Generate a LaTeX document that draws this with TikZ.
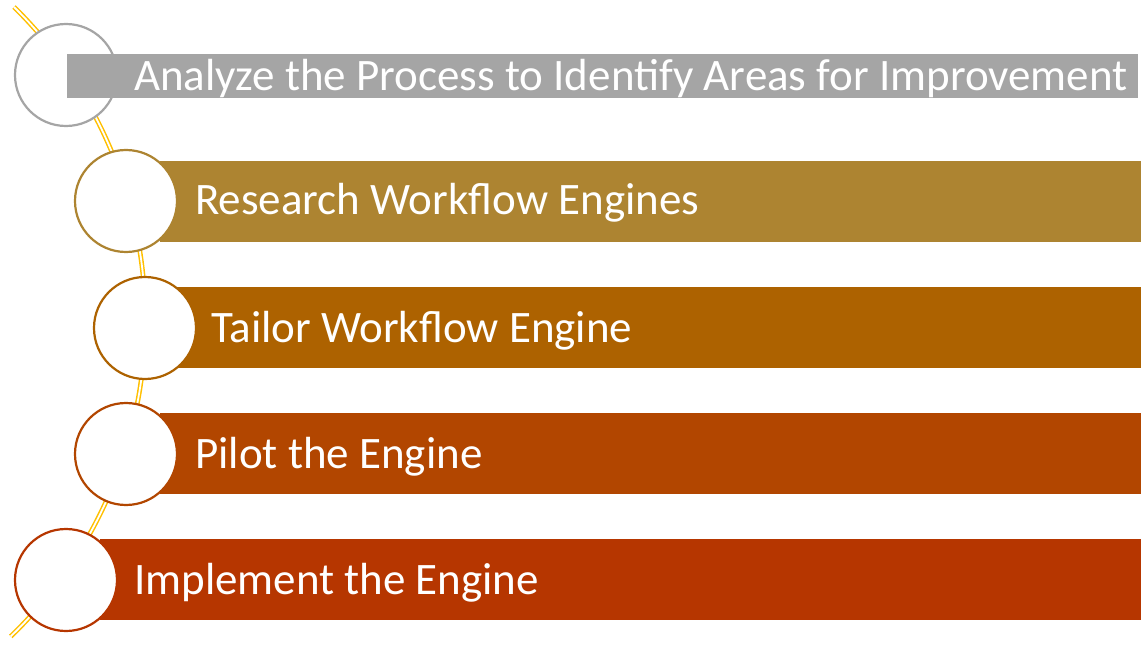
\documentclass[tikz,border=0pt]{standalone}
\usepackage{fontspec}
\setmainfont{Carlito}
\definecolor{cgray}{RGB}{165,165,165}
\definecolor{ctwo}{RGB}{173,132,49}
\definecolor{cthree}{RGB}{173,98,0}
\definecolor{cfour}{RGB}{178,70,0}
\definecolor{cfive}{RGB}{182,54,0}
\definecolor{cgold}{RGB}{255,192,0}
\begin{document}
\begin{tikzpicture}[x=1pt,y=1pt,
  bar/.style={draw=none,rectangle,inner sep=0pt,anchor=north west,minimum height=81pt},
  ring/.style={circle,fill=white,line width=2.2pt,minimum size=102pt,inner sep=0pt},
  label/.style={anchor=base west,inner sep=0pt,text=white,font=\fontsize{45}{54}\selectfont}]
\useasboundingbox (0,0) rectangle (1141,-647);
% gold double arc
\draw[cgold,line width=1.5pt,double=white,double distance=1.8pt]
  (14,-7) arc[start angle=45.5,end angle=-46.1,radius=439pt];
% row 1 (bar above circle)
\node[ring,draw=cgray] (c1) at (66,-75) {};
\node[bar,fill=cgray,minimum width=1071pt,minimum height=44pt] (b1) at (67,-54) {};
% rows 2-5 (circle above bar)
\node[bar,fill=ctwo,minimum width=981pt] (b2) at (160,-161) {};
\node[ring,draw=ctwo] (c2) at (126,-201) {};
\node[bar,fill=cthree,minimum width=964pt] (b3) at (177,-287) {};
\node[ring,draw=cthree] (c3) at (145,-328) {};
\node[bar,fill=cfour,minimum width=981pt] (b4) at (160,-413) {};
\node[ring,draw=cfour] (c4) at (126,-454) {};
\node[bar,fill=cfive,minimum width=1041pt] (b5) at (100,-539) {};
\node[ring,draw=cfive] (c5) at (66,-580) {};
% labels
\node[label] (t1) at (134,-91) {Analyze the Process to Identify Areas for Improvement};
\node[label] (t2) at (195,-215) {Research Workflow Engines};
\node[label] (t3) at (211,-342) {Tailor Workflow Engine};
\node[label] (t4) at (195,-468) {Pilot the Engine};
\node[label] (t5) at (134,-594) {Implement the Engine};
\end{tikzpicture}
\end{document}
